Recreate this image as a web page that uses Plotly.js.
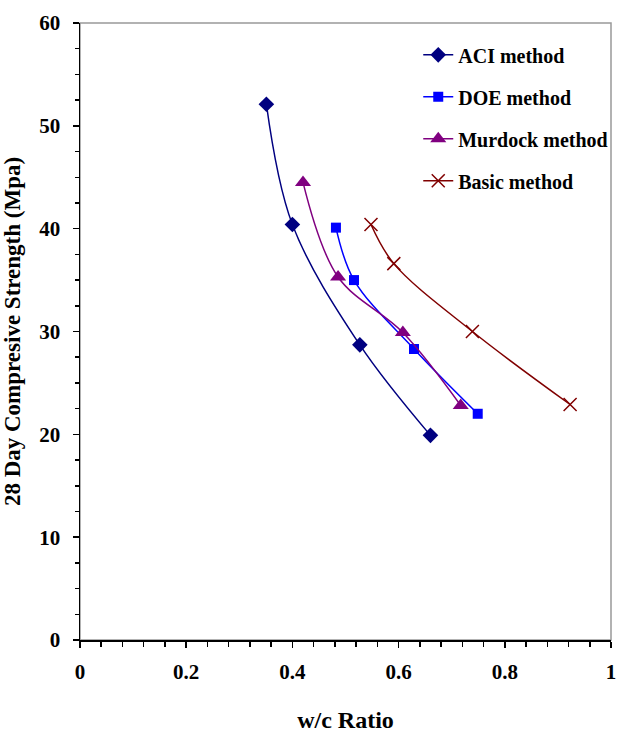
<!DOCTYPE html>
<html>
<head>
<meta charset="utf-8">
<script src="https://cdn.plot.ly/plotly-3.0.1.min.js"></script>
<style>html,body{margin:0;padding:0;background:#fff;}#chart{width:617px;height:733px;}</style>
</head>
<body>
<div id="chart"></div>
<script>
// Data
const aciX = [0.351, 0.400, 0.527, 0.660];
const aciY = [52.1, 40.4, 28.7, 19.9];
const doeX = [0.482, 0.516, 0.629, 0.749];
const doeY = [40.1, 35.0, 28.3, 22.0];
const murdockX = [0.420, 0.486, 0.608, 0.717];
const murdockY = [44.5, 35.3, 29.9, 22.8];
const basicX = [0.548, 0.591, 0.739, 0.923];
const basicY = [40.4, 36.6, 30.0, 22.9];
const seriesNames = ["ACI method", "DOE method", "Murdock method", "Basic method"];
const xTickVals = [0, 0.2, 0.4, 0.6, 0.8, 1];
const xTickText = ["0", "0.2", "0.4", "0.6", "0.8", "1"];

const FONT = "Liberation Serif";

function mk(x, y, name, color, symbol, size, group) {
  return {
    x: x, y: y, name: name, type: "scatter", mode: "lines+markers",
    legendgroup: group,
    line: {color: color, width: 1.5, shape: "spline", smoothing: 1},
    marker: {color: color, symbol: symbol, size: size,
             line: {color: color, width: symbol === "x-thin" ? 1.5 : 0}}
  };
}

const traces = [
  mk(aciX, aciY, seriesNames[0], "#000080", "diamond", 12, "a"),
  mk(doeX, doeY, seriesNames[1], "#0000FF", "square", 10, "b"),
  mk(murdockX, murdockY, seriesNames[2], "#800080", "triangle-up", 14, "c"),
  mk(basicX, basicY, seriesNames[3], "#800000", "x-thin", 13, "d")
];

const layout = {
  width: 617, height: 733,
  margin: {l: 80, r: 4, t: 23, b: 93},
  paper_bgcolor: "#fff", plot_bgcolor: "#fff",
  font: {family: FONT, color: "#000", size: 20, weight: "bold"},
  showlegend: true,
  legend: {x: 0.637, y: 0.98, xanchor: "left", yanchor: "top",
           font: {family: FONT, size: 20, color: "#000", weight: "bold"},
           bgcolor: "rgba(0,0,0,0)", tracegroupgap: 13, itemwidth: 30},
  xaxis: {
    range: [0, 1], showgrid: false, zeroline: false,
    showline: true, linecolor: "#000", linewidth: 1.5,
    ticks: "outside", ticklen: 6, tickwidth: 1.5, tickcolor: "#000",
    tickmode: "array", tickvals: xTickVals, ticktext: xTickText,
    ticklabeloverflow: "allow",
    minor: {dtick: 0.04, tick0: 0, ticks: "outside", ticklen: 5, tickwidth: 1.5, tickcolor: "#000", showgrid: false},
    tickfont: {family: FONT, size: 21, color: "#000", weight: "bold"},
    ticklabelstandoff: 6,
    title: {text: "w/c Ratio", font: {family: FONT, size: 24, color: "#000", weight: "bold"}, standoff: 28}
  },
  yaxis: {
    range: [0, 60], dtick: 10, showgrid: false, zeroline: false,
    showline: true, linecolor: "#000", linewidth: 1.5,
    ticks: "outside", ticklen: 6, tickwidth: 1.5, tickcolor: "#000",
    ticklabeloverflow: "allow",
    minor: {dtick: 2.5, ticks: "outside", ticklen: 4, tickwidth: 1.5, tickcolor: "#000", showgrid: false},
    tickfont: {family: FONT, size: 21, color: "#000", weight: "bold"},
    ticklabelstandoff: 8,
    title: {text: "28 Day Compresive Strength (Mpa)", font: {family: FONT, size: 23, color: "#000", weight: "bold"}, standoff: 14}
  },
  shapes: [{type: "rect", xref: "paper", yref: "paper", x0: 0, x1: 1, y0: 0, y1: 1,
            line: {color: "#999", width: 1.5}, layer: "below"}]
};

Plotly.newPlot("chart", traces, layout, {staticPlot: true, displayModeBar: false});
</script>
</body>
</html>
